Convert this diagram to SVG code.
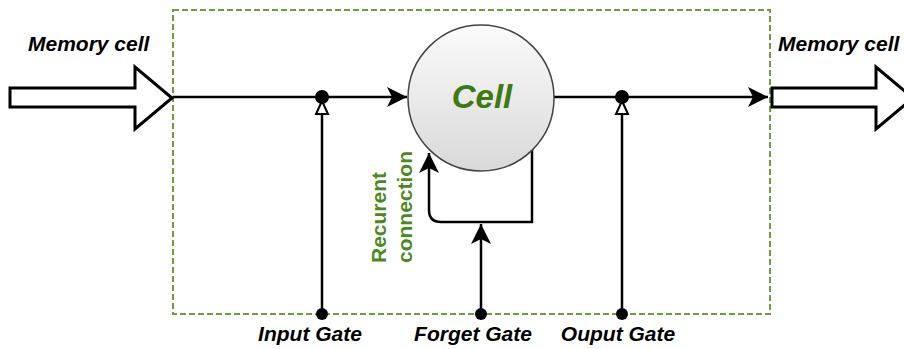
<svg xmlns="http://www.w3.org/2000/svg" width="904" height="349" viewBox="0 0 904 349">
<style>
.lbl{font-family:"Liberation Sans",Arial,sans-serif;font-weight:bold;font-style:italic;font-size:21px;fill:#000}
.grn{font-family:"Liberation Sans",Arial,sans-serif;font-weight:bold;font-size:21px;fill:#4a8a1f}
.ln{fill:none;stroke:#000;stroke-width:2.5}
.blk{fill:#fff;stroke:#000;stroke-width:3;stroke-linejoin:miter}
.dot{fill:#000}
.tri{fill:#fff;stroke:#000;stroke-width:2}
</style>
<defs>
<linearGradient id="cg" x1="0" y1="0" x2="0" y2="1">
<stop offset="0" stop-color="#fbfbfb"/>
<stop offset="1" stop-color="#d9d9d9"/>
</linearGradient>
<marker id="ah" viewBox="0 0 20 20" refX="20" refY="10" markerWidth="20" markerHeight="20" markerUnits="userSpaceOnUse" orient="auto">
<path d="M0,0 L20,10 L0,20 L5,10 Z" fill="#000"/>
</marker>
</defs>
<g id="boundary">
<rect x="173" y="10" width="597" height="304" fill="none" stroke="#6f9f3c" stroke-width="2" stroke-dasharray="6 3"/>
</g>
<g id="connectors">
<path class="ln" d="M173,97 L407,97" marker-end="url(#ah)"/>
<path class="ln" d="M554,97 L768,97" marker-end="url(#ah)"/>
<path class="ln" d="M322,314 L322,114"/>
<path class="ln" d="M622,314 L622,114"/>
<path class="ln" d="M532,150 L532,222 L441,222 Q429,222 429,210 L429,153" marker-end="url(#ah)"/>
<path class="ln" d="M481,314 L481,224" marker-end="url(#ah)"/>
</g>
<g id="memory-cell-in">
<polygon class="blk" points="10,88 135,88 135,67 172,98 135,129 135,107 10,107"/>
<text class="lbl" x="28" y="51">Memory cell</text>
</g>
<g id="memory-cell-out">
<polygon class="blk" points="772,88 876,88 876,67 913,98 876,129 876,107 772,107"/>
<text class="lbl" x="778" y="51">Memory cell</text>
</g>
<g id="cell">
<circle cx="481" cy="98" r="73" fill="url(#cg)" stroke="#444" stroke-width="1.5"/>
<text x="482" y="108" text-anchor="middle" font-family="Liberation Sans, Arial, sans-serif" font-weight="bold" font-style="italic" font-size="33" fill="#3d7a12">Cell</text>
</g>
<g id="input-junction">
<polygon class="tri" points="322,101 316,114 328,114"/>
<circle class="dot" cx="322" cy="97" r="7"/>
</g>
<g id="output-junction">
<polygon class="tri" points="622,101 616,114 628,114"/>
<circle class="dot" cx="622" cy="97" r="7"/>
</g>
<g id="input-gate">
<circle class="dot" cx="322" cy="314" r="6"/>
<text class="lbl" x="310" y="341" text-anchor="middle">Input Gate</text>
</g>
<g id="forget-gate">
<circle class="dot" cx="481" cy="314" r="6"/>
<text class="lbl" x="473" y="341" text-anchor="middle">Forget Gate</text>
</g>
<g id="output-gate">
<circle class="dot" cx="622" cy="314" r="6"/>
<text class="lbl" x="618" y="341" text-anchor="middle">Ouput Gate</text>
</g>
<g id="recurrent-label">
<text class="grn" transform="translate(386,263) rotate(-90)">Recurent</text>
<text class="grn" transform="translate(412,263) rotate(-90)">connection</text>
</g>
</svg>
